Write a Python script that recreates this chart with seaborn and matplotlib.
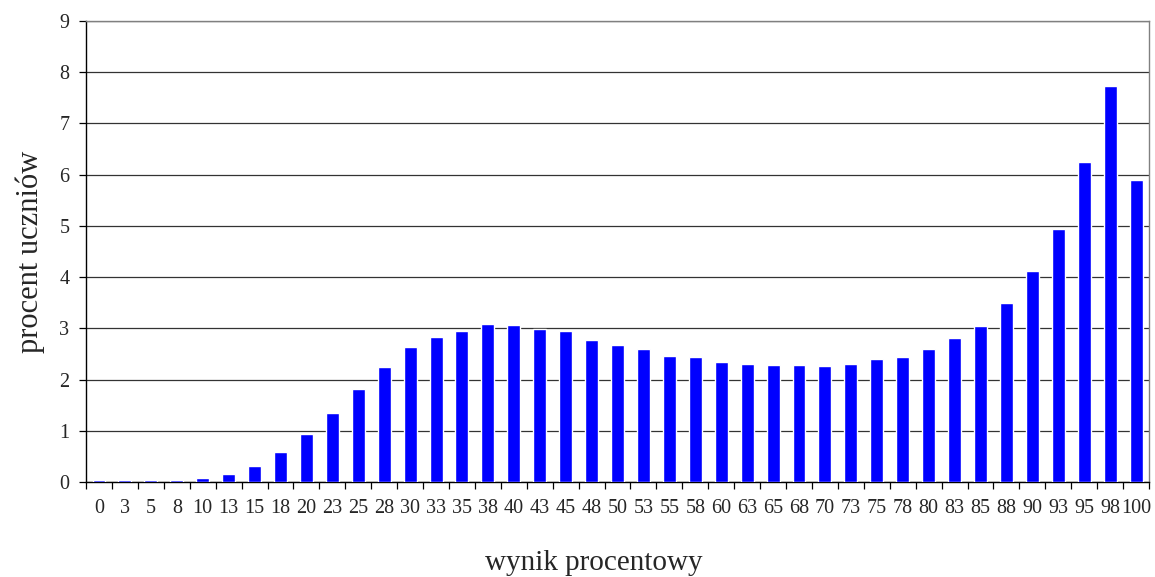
import numpy as np
import pandas as pd
import matplotlib
matplotlib.use("Agg")
import matplotlib.pyplot as plt
import seaborn as sbn

# Data

wyniki = [0, 3, 5, 8, 10, 13, 15, 18, 20, 23, 25, 28, 30, 33, 35, 38, 40, 43, 45, 48,
          50, 53, 55, 58, 60, 63, 65, 68, 70, 73, 75, 78, 80, 83, 85, 88, 90, 93, 95, 98, 100]
procent = [0.03, 0.03, 0.03, 0.04, 0.07, 0.16, 0.31, 0.58, 0.93, 1.34, 1.81, 2.24, 2.63, 2.84,
           2.95, 3.08, 3.07, 2.99, 2.95, 2.78, 2.68, 2.59, 2.47, 2.45, 2.34, 2.30, 2.29, 2.29,
           2.27, 2.30, 2.40, 2.44, 2.59, 2.81, 3.05, 3.49, 4.12, 4.93, 6.24, 7.73, 5.90]

table = pd.DataFrame({"wynik": [str(w) for w in wyniki], "procent": procent})

sbn.set_style("white")
plt.rcParams["font.family"] = ["Liberation Serif", "DejaVu Serif"]

fig = plt.figure(figsize=(11.55, 5.77), dpi=100)
ax = fig.add_axes([0.0745, 0.1646, 0.9203, 0.799])

sbn.barplot(data=table, x="wynik", y="procent", color="#0000FF", saturation=1,
            width=0.5, ax=ax, zorder=3)

n = len(wyniki)
ax.set_xlim(-0.5, n - 0.5)
ax.set_ylim(0, 9)
ax.set_yticks(range(0, 10))
ax.yaxis.grid(True, color="#333333", linewidth=0.9, zorder=0)
ax.set_axisbelow(True)

# tick marks between categories
ax.set_xticks(np.arange(-0.5, n, 1.0), minor=True)
ax.tick_params(axis="x", which="major", length=0, pad=12, labelsize=14.5)
ax.tick_params(axis="x", which="minor", length=5, width=0.9, color="black", direction="out")
ax.tick_params(axis="y", length=5, width=0.9, color="black", direction="out", labelsize=14.5, pad=7)
ax.tick_params(bottom=True, left=True)
ax.xaxis.set_tick_params(which="minor", bottom=True)

for s in ["left", "bottom"]:
    ax.spines[s].set_color("black")
    ax.spines[s].set_linewidth(1.0)
for s in ["top", "right"]:
    ax.spines[s].set_color("#808080")
    ax.spines[s].set_linewidth(1.0)

ax.set_xlabel("wynik procentowy", fontsize=21)
ax.xaxis.set_label_coords(0.478, -0.147)
ax.set_ylabel("procent uczniów", fontsize=22, labelpad=10)

fig.savefig("out.png", dpi=100)
